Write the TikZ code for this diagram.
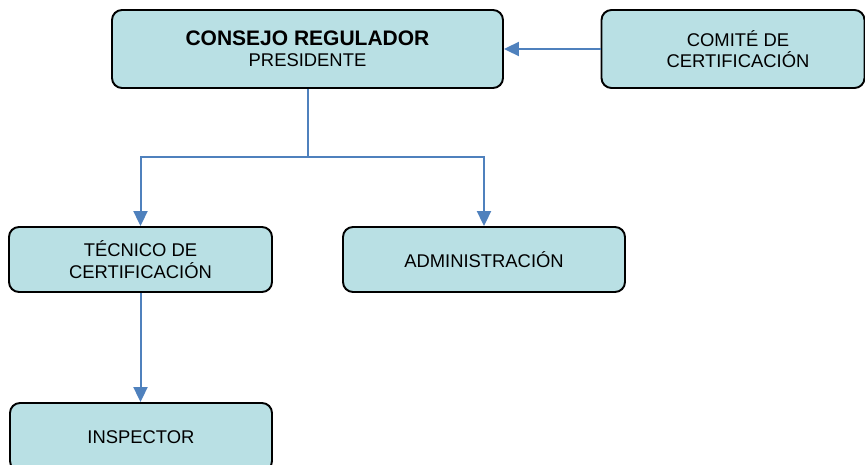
\documentclass[tikz,border=0pt]{standalone}
\usepackage{fontspec}
\setmainfont{Liberation Sans}
\usetikzlibrary{arrows.meta}
\definecolor{boxfill}{RGB}{185,224,228}
\definecolor{linkblue}{RGB}{79,129,189}
\begin{document}
\begin{tikzpicture}[x=1pt,y=-1pt,
  orgbox/.style={draw=black, line width=1.9pt, fill=boxfill, rounded corners=10pt,
    inner sep=0pt, align=center, font=\fontsize{18.4}{21.5}\selectfont},
  plain/.style={inner sep=0pt, align=center, font=\fontsize{18.4}{21.5}\selectfont},
  linkline/.style={draw=linkblue, line width=2pt},
  link/.style={linkline, -{Triangle[length=15pt,width=14pt]}}]
\useasboundingbox (0,0) rectangle (865,464);
\clip (0,0) rectangle (865,464);
\node[orgbox, minimum width=391pt, minimum height=78pt] (consejo) at (307.5,49)
  {{\fontsize{21}{21.5}\selectfont\bfseries CONSEJO REGULADOR}\\PRESIDENTE};
\node[orgbox, minimum width=263pt, minimum height=78pt] (comite) at (733,49) {};
\node[plain] (comitetxt) at (738,49) {COMITÉ DE\\CERTIFICACIÓN};
\node[orgbox, minimum width=263pt, minimum height=65pt] (tecnico) at (140.5,259.5)
  {TÉCNICO DE\\CERTIFICACIÓN};
\node[orgbox, minimum width=282pt, minimum height=65pt] (admin) at (484,259.5)
  {ADMINISTRACIÓN};
\node[orgbox, minimum width=262pt, minimum height=68pt] (inspector) at (141,437)
  {INSPECTOR};
\coordinate (split) at (307.5,157);
\draw[link] (comite.west) -- (consejo.east);
\draw[linkline] (consejo.south) -- (split);
\draw[link] (split) -| (tecnico.north);
\draw[link] (split) -| (admin.north);
\draw[link] (tecnico.south) -- (tecnico.south |- inspector.north);
\end{tikzpicture}
\end{document}
